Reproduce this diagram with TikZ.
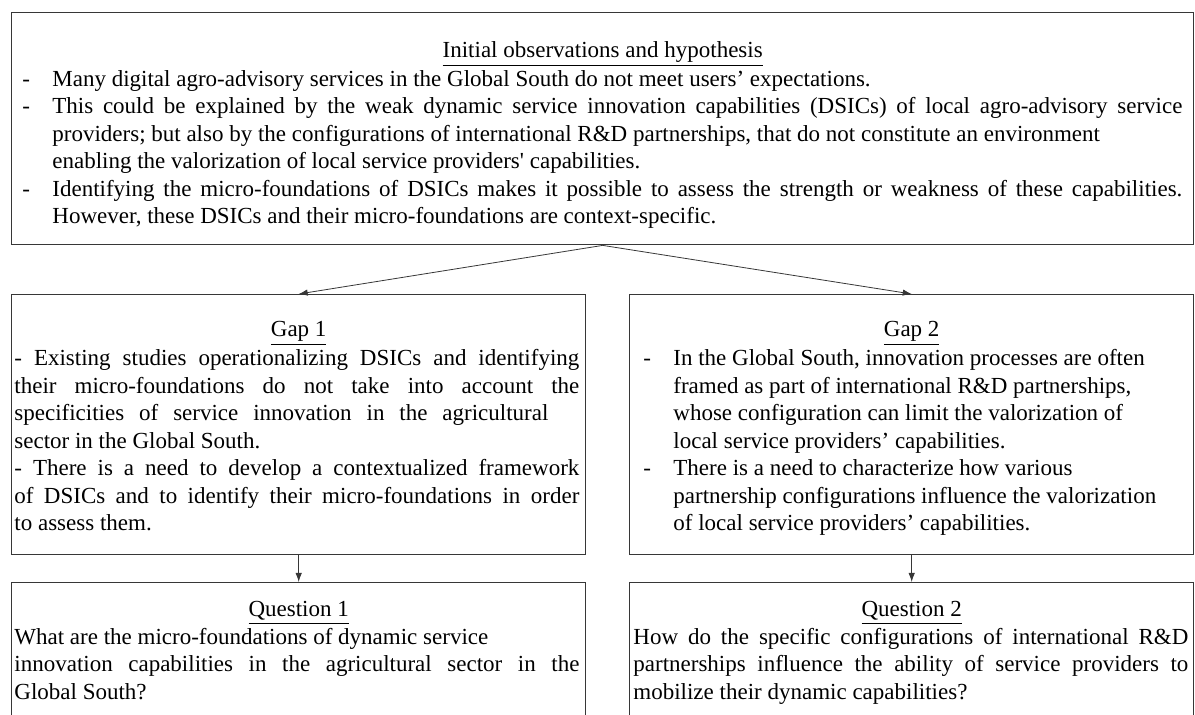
\documentclass[tikz,border=0pt]{standalone}
\usepackage{fontspec}
\setmainfont{Liberation Serif}
\usetikzlibrary{arrows.meta,positioning,calc}
\definecolor{boxline}{RGB}{55,55,55}
\newcommand{\boxfont}{\fontsize{11.5}{13.75}\selectfont}
\newcommand{\fullline}[1]{\makebox[\linewidth][s]{#1}}
\newcommand{\spreadto}[2]{\makebox[#1][s]{#2}}

\begin{document}
\begin{tikzpicture}[x=0.5pt, y=-0.5pt,
  panel/.style={draw=boxline, line width=0.7pt, anchor=north west, inner sep=0pt},
  heading/.style={font=\boxfont, anchor=base, inner sep=0pt},
  body/.style={font=\boxfont, anchor=base west, inner sep=0pt},
  arrow/.style={-{Latex[length=4.5pt,width=3.2pt]}, line width=0.4pt, draw=boxline}
]
\clip (0,0) rectangle (1195,715);

% observations and hypothesis
\node[panel, minimum width=591pt, minimum height=116pt] (obs) at (11,12) {};
\node[heading] (obstitle) at (obs.center |- 0,58) {\underline{Initial observations and hypothesis}};
\node[body] (obstext) at (22,86.5) {%
\begin{tabular}[t]{@{}p{15pt}@{}p{565pt}@{}}
- & Many digital agro-advisory services in the Global South do not meet users’ expectations.\\
- & \fullline{This could be explained by the weak dynamic service innovation capabilities (DSICs) of local agro-advisory service}\\
  & providers; but also by the configurations of international R\&D partnerships, that do not constitute an environment\\
  & enabling the valorization of local service providers\textquotesingle{} capabilities.\\
- & \fullline{Identifying the micro-foundations of DSICs makes it possible to assess the strength or weakness of these capabilities.}\\
  & However, these DSICs and their micro-foundations are context-specific.
\end{tabular}};

% gaps
\node[panel, minimum width=287pt, minimum height=130pt] (gapone) at (11,294) {};
\node[panel, minimum width=282pt, minimum height=130pt] (gaptwo) at (629,294) {};
\node[heading] (gaponetitle) at (gapone.center |- 0,337) {\underline{Gap 1}};
\node[heading] (gaptwotitle) at (gaptwo.center |- 0,337) {\underline{Gap 2}};
\node[body] (gaponetext) at (14,366) {%
\begin{tabular}[t]{@{}p{282.5pt}@{}}
\fullline{- Existing studies operationalizing DSICs and identifying}\\
\fullline{their micro-foundations do not take into account the}\\
\spreadto{267pt}{specificities of service innovation in the agricultural}\\
sector in the Global South.\\
\fullline{- There is a need to develop a contextualized framework}\\
\fullline{of DSICs and to identify their micro-foundations in order}\\
to assess them.
\end{tabular}};
\node[body] (gaptwotext) at (643,366) {%
\begin{tabular}[t]{@{}p{15pt}@{}p{257pt}@{}}
- & In the Global South, innovation processes are often\\
  & framed as part of international R\&D partnerships,\\
  & whose configuration can limit the valorization of\\
  & local service providers’ capabilities.\\
- & There is a need to characterize how various\\
  & partnership configurations influence the valorization\\
  & of local service providers’ capabilities.
\end{tabular}};

% questions
\node[panel, minimum width=287pt, minimum height=100pt] (qone) at (11,582) {};
\node[panel, minimum width=282pt, minimum height=100pt] (qtwo) at (629,582) {};
\node[heading] (qonetitle) at (qone.center |- 0,617) {\underline{Question 1}};
\node[heading] (qtwotitle) at (qtwo.center |- 0,617) {\underline{Question 2}};
\node[body] (qonetext) at (14,644.5) {%
\begin{tabular}[t]{@{}p{282.5pt}@{}}
What are the micro-foundations of dynamic service\\
\fullline{innovation capabilities in the agricultural sector in the}\\
Global South?
\end{tabular}};
\node[body] (qtwotext) at (633,644.5) {%
\begin{tabular}[t]{@{}p{277.5pt}@{}}
\fullline{How do the specific configurations of international R\&D}\\
\fullline{partnerships influence the ability of service providers to}\\
mobilize their dynamic capabilities?
\end{tabular}};

% connectors
\draw[arrow] (obs.south) -- (gapone.north);
\draw[arrow] (obs.south) -- (gaptwo.north);
\draw[arrow] (gapone.south) -- (qone.north);
\draw[arrow] (gaptwo.south) -- (qtwo.north);
\end{tikzpicture}
\end{document}
